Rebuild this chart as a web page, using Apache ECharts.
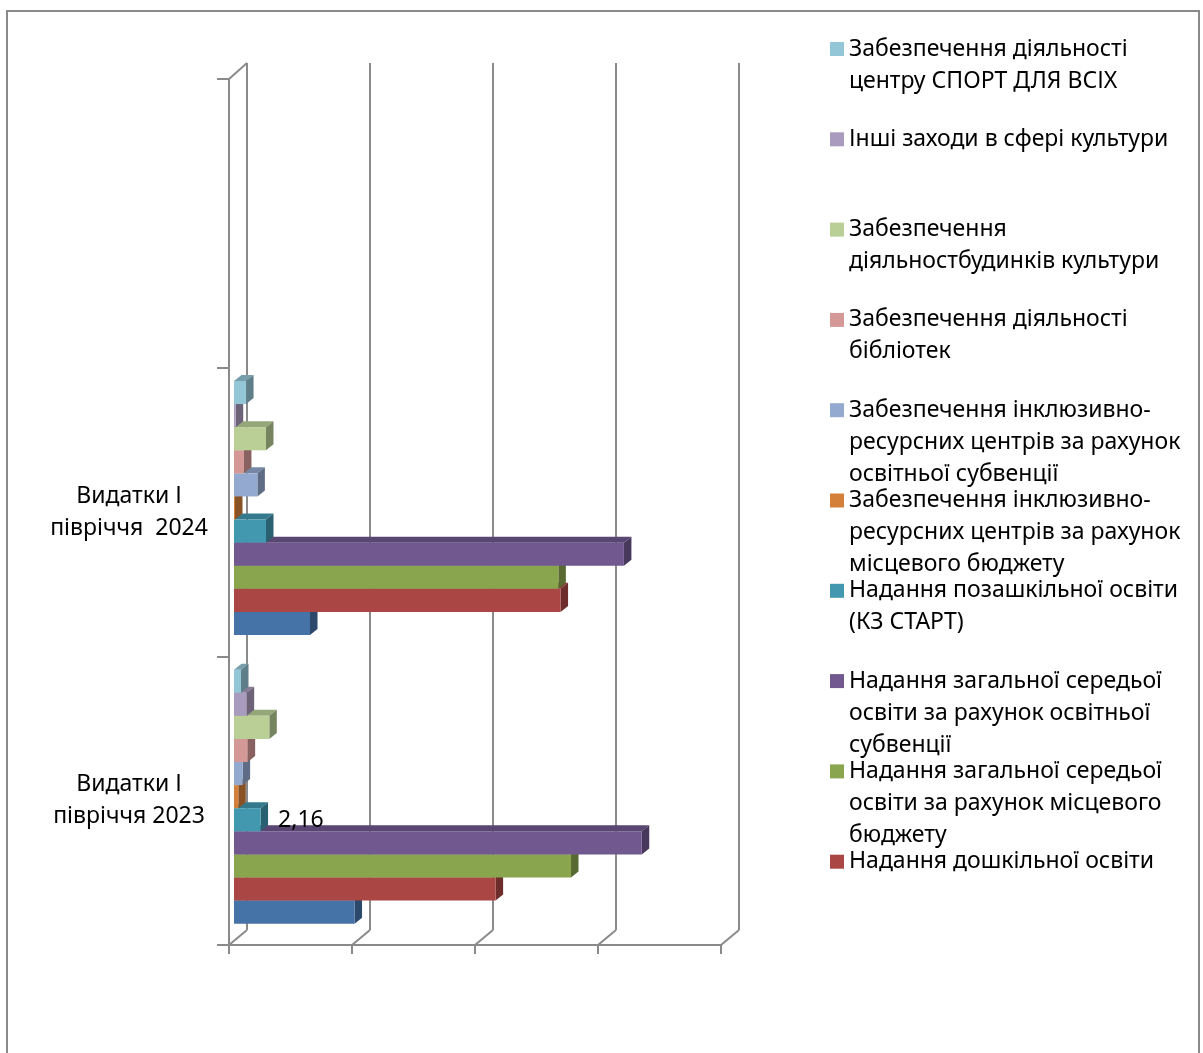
<!DOCTYPE html>
<html>
<head>
<meta charset="utf-8">
<script src="https://cdn.jsdelivr.net/npm/echarts@6/dist/echarts.min.js"></script>
<style>
  html, body { margin: 0; padding: 0; background: #fff; }
  #chart { width: 1203px; height: 1053px; }
</style>
</head>
<body>
<div id="chart"></div>
<script>
// Categories (bottom to top); the top band is left empty
const categories = ['Видатки І\nпівріччя 2023', 'Видатки І\nпівріччя  2024', ''];

// Series names, drawn bottom to top inside each band
const seriesNames = [
  'Ряд 1',
  'Надання дошкільної освіти',
  'Надання загальної середьої освіти за рахунок місцевого бюджету',
  'Надання загальної середьої освіти за рахунок освітньої субвенції',
  'Надання позашкільної освіти (КЗ СТАРТ)',
  'Забезпечення інклюзивно-ресурсних центрів за рахунок місцевого бюджету',
  'Забезпечення інклюзивно-ресурсних центрів за рахунок освітньої субвенції',
  'Забезпечення діяльності бібліотек',
  'Забезпечення діяльностбудинків культури',
  'Інші заходи в сфері культури',
  'Забезпечення діяльності центру СПОРТ ДЛЯ ВСІХ'
];

// Values per category: [2023, 2024]
const row1Values         = [9.8, 6.18];
const preschoolValues    = [21.27, 26.55];
const schoolLocalValues  = [27.4, 26.37];
const schoolSubvValues   = [33.15, 31.7];
const extracurricValues  = [2.16, 2.6];
const irsLocalValues     = [0.35, 0.08];
const irsSubvValues      = [0.7, 1.9];
const librariesValues    = [1.11, 0.81];
const cultureHouseValues = [2.87, 2.6];
const otherCultureValues = [1.03, 0.14];
const sportValues        = [0.57, 0.98];

// Value axis ticks
const valueMin = 0, valueMax = 40, valueStep = 10;

// Legend text, broken into lines
const legendLines = {
  'Забезпечення діяльності центру СПОРТ ДЛЯ ВСІХ': ['Забезпечення діяльності', 'центру СПОРТ ДЛЯ ВСІХ'],
  'Інші заходи в сфері культури': ['Інші заходи в сфері культури'],
  'Забезпечення діяльностбудинків культури': ['Забезпечення', 'діяльностбудинків культури'],
  'Забезпечення діяльності бібліотек': ['Забезпечення діяльності', 'бібліотек'],
  'Забезпечення інклюзивно-ресурсних центрів за рахунок освітньої субвенції': ['Забезпечення інклюзивно-', 'ресурсних центрів за рахунок', 'освітньої субвенції'],
  'Забезпечення інклюзивно-ресурсних центрів за рахунок місцевого бюджету': ['Забезпечення інклюзивно-', 'ресурсних центрів за рахунок', 'місцевого бюджету'],
  'Надання позашкільної освіти (КЗ СТАРТ)': ['Надання позашкільної освіти', '(КЗ СТАРТ)'],
  'Надання загальної середьої освіти за рахунок освітньої субвенції': ['Надання загальної середьої', 'освіти за рахунок освітньої', 'субвенції'],
  'Надання загальної середьої освіти за рахунок місцевого бюджету': ['Надання загальної середьої', 'освіти за рахунок місцевого', 'бюджету'],
  'Надання дошкільної освіти': ['Надання дошкільної освіти']
};

const seriesValues = [
  row1Values, preschoolValues, schoolLocalValues, schoolSubvValues, extracurricValues,
  irsLocalValues, irsSubvValues, librariesValues, cultureHouseValues, otherCultureValues, sportValues
];

const colors = [
  '#4572A7', '#AA4643', '#89A54E', '#71588F', '#4198AF',
  '#D4803A', '#93A9D0', '#D49896', '#BACF96', '#A99BBD', '#93C6D6'
];

// Data labels: [series index, category index]
const valueLabels = [[4, 0]];

// 3D look: depth of the box and of each bar (pixels)
const BOX_DX = 18, BOX_DY = -15;
const BAR_SHIFT_X = 5, BAR_SHIFT_Y = -4;
const BAR_DX = 7.5, BAR_DY = -6;
const BAR_RATIO = 0.08;
const FONT = '"Noto Sans", "Open Sans", sans-serif';
const FONT_SIZE = 23;
const LINE_H = 32;
const AXIS_GRAY = '#8a8a8a';

function shade(hex, f) {
  const n = parseInt(hex.slice(1), 16);
  const r = Math.round(((n >> 16) & 255) * f);
  const g = Math.round(((n >> 8) & 255) * f);
  const b = Math.round((n & 255) * f);
  return 'rgb(' + r + ',' + g + ',' + b + ')';
}

function fmt(v) { return v.toFixed(2).replace('.', ','); }

function barRenderer(s) {
  return function (params, api) {
    const v = api.value(0), c = api.value(1);
    const base = api.coord([0, c]);
    const end = api.coord([v, c]);
    const band = api.size([0, 1])[1];
    const h = band * BAR_RATIO;
    const yb = base[1] + (seriesNames.length * h) / 2 - s * h + BAR_SHIFT_Y;
    const yt = yb - h;
    const xl = base[0] + BAR_SHIFT_X, xr = end[0] + BAR_SHIFT_X;
    const col = colors[s];
    const children = [
      { type: 'polygon', shape: { points: [[xl, yt], [xr, yt], [xr + BAR_DX, yt + BAR_DY], [xl + BAR_DX, yt + BAR_DY]] },
        style: { fill: shade(col, 0.8) } },
      { type: 'polygon', shape: { points: [[xr, yt], [xr + BAR_DX, yt + BAR_DY], [xr + BAR_DX, yb + BAR_DY], [xr, yb]] },
        style: { fill: shade(col, 0.64) } },
      { type: 'rect', shape: { x: xl, y: yt, width: Math.max(xr - xl, 0.5), height: h },
        style: { fill: col } }
    ];
    if (valueLabels.some(function (p) { return p[0] === s && p[1] === params.dataIndex; })) {
      children.push({
        type: 'text',
        style: { x: xr + BAR_DX + 10, y: (yt + yb) / 2 + 1, text: fmt(v), fill: '#000',
                 font: FONT_SIZE + 'px ' + FONT, verticalAlign: 'middle', align: 'left' }
      });
    }
    return { type: 'group', children: children };
  };
}

// Back wall grid lines, floor and side edges of the box
function frameRenderer(params, api) {
  const cs = params.coordSys;
  const top = cs.y, bottom = cs.y + cs.height;
  const line = function (x1, y1, x2, y2) {
    return { type: 'line', shape: { x1: x1, y1: y1, x2: x2, y2: y2 },
             style: { stroke: AXIS_GRAY, lineWidth: 2 } };
  };
  const children = [];
  for (let t = valueMin; t <= valueMax; t += valueStep) {
    const x = api.coord([t, 0])[0];
    children.push(line(x + BOX_DX, top + BOX_DY - 1, x + BOX_DX, bottom + BOX_DY));
    children.push(line(x, bottom, x + BOX_DX, bottom + BOX_DY));
  }
  const x0 = api.coord([valueMin, 0])[0];
  children.push(line(x0, top, x0 + BOX_DX, top + BOX_DY - 1));
  return { type: 'group', children: children };
}

const series = [{
  type: 'custom',
  name: '__frame',
  silent: true,
  renderItem: frameRenderer,
  data: [[0, 0]],
  encode: { x: 0, y: 1 },
  z: 1
}];
seriesNames.forEach(function (name, s) {
  series.push({
    type: 'custom',
    name: name,
    color: colors[s],
    renderItem: barRenderer(s),
    encode: { x: 0, y: 1 },
    data: seriesValues[s].map(function (v, c) { return [v, c]; }),
    z: 2
  });
});

// One legend block per entry, stacked top to bottom in reverse series order.
// Blank lines above the text keep the marker level with the first text line.
const legendOrder = seriesNames.slice(1).reverse();
const legends = legendOrder.map(function (name, i) {
  const lines = legendLines[name];
  const n = lines.length;
  const center = 49 + i * 90.3;
  const padded = new Array(n - 1).fill(' ').concat(lines);
  return {
    left: 830,
    top: center - (2 * n - 1) * LINE_H / 2,
    padding: 0,
    orient: 'vertical',
    itemWidth: 14,
    itemHeight: 14,
    icon: 'rect',
    data: [name],
    formatter: function () { return padded.join('\n'); },
    textStyle: { fontFamily: FONT, fontSize: FONT_SIZE, lineHeight: LINE_H, color: '#000' }
  };
});

const chart = echarts.init(document.getElementById('chart'));
chart.setOption({
  backgroundColor: '#fff',
  animation: false,
  textStyle: { fontFamily: FONT },
  graphic: [{
    type: 'rect', silent: true,
    shape: { x: 7, y: 11, width: 1192, height: 1070 },
    style: { fill: null, stroke: '#8a8a8a', lineWidth: 2 }
  }],
  legend: legends,
  grid: { left: 229, top: 79, width: 492, height: 866, containLabel: false },
  xAxis: {
    type: 'value', min: valueMin, max: valueMax, interval: valueStep,
    axisLine: { show: true, lineStyle: { color: AXIS_GRAY, width: 2 } },
    axisTick: { show: true, length: 9, lineStyle: { color: AXIS_GRAY, width: 2 } },
    axisLabel: { show: false },
    splitLine: { show: false }
  },
  yAxis: {
    type: 'category', data: categories,
    axisLine: { show: true, lineStyle: { color: AXIS_GRAY, width: 2 } },
    axisTick: { show: true, length: 12, lineStyle: { color: AXIS_GRAY, width: 2 } },
    axisLabel: { color: '#000', fontFamily: FONT, fontSize: FONT_SIZE, lineHeight: LINE_H,
                 align: 'center', margin: 100 },
    splitLine: { show: false }
  },
  series: series
});
</script>
</body>
</html>
